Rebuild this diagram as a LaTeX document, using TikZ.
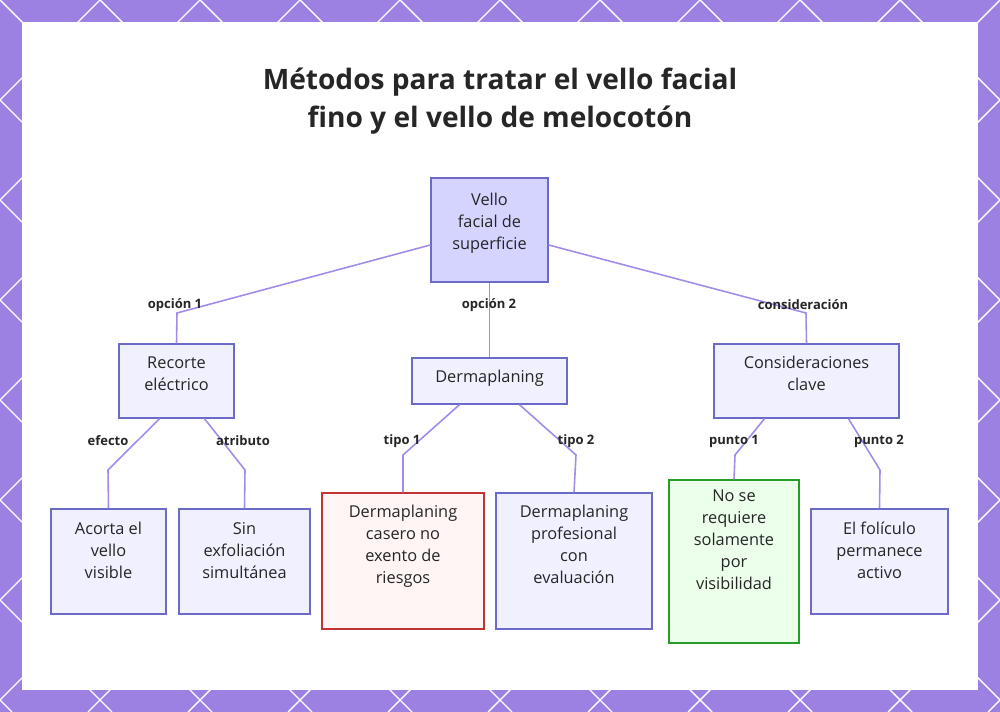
\documentclass[tikz,border=0pt]{standalone}
\usepackage{fontspec}
\setmainfont{Open Sans}
\begin{document}
\begin{tikzpicture}[x=0.02cm,y=-0.02cm,
 box/.style={draw=#1,line width=0.8pt,align=center,inner sep=2pt,font=\fontsize{9.3}{12.5}\selectfont,text=black!85},
 blue/.style={box=blue!45!gray!80,fill=blue!6},
 lk/.style={draw=violet!40!blue!45,line width=0.9pt},
 lb/.style={font=\bfseries\fontsize{7.4}{9}\selectfont,text=black!85}]
\useasboundingbox (0,0) rectangle (1000,712);
\begin{scope}
\clip (0,0) rectangle (1000,712);
\fill[violet!45!blue!50] (0,0) rectangle (1000,712);
\foreach \a in {-700,-600,...,1000} \draw[white,line width=0.8pt] (\a,0) -- (\a+712,712);
\foreach \a in {0,100,...,1700} \draw[white,line width=0.8pt] (\a,0) -- (\a-712,712);
\fill[white] (22,22) rectangle (978,690);
\end{scope}
\node[font=\bfseries\fontsize{16}{22}\selectfont,align=center,text=black!85] (title) at (500,101) {Métodos para tratar el vello facial\\fino y el vello de melocotón};
\node[blue,fill=blue!17,minimum width=117*0.02cm,minimum height=104*0.02cm] (root) at (489.5,230) {Vello\\facial de\\superficie\\[-3pt]\phantom{x}};
\node[blue,minimum width=115*0.02cm,minimum height=74*0.02cm] (rec) at (176.5,381) {Recorte\\eléctrico\\[-4pt]\phantom{x}};
\node[blue,minimum width=155*0.02cm,minimum height=46*0.02cm] (der) at (489.5,381) {Dermaplaning\\[-7pt]\phantom{x}};
\node[blue,minimum width=185*0.02cm,minimum height=74*0.02cm] (con) at (806.5,381) {Consideraciones\\clave\\[-4pt]\phantom{x}};
\node[blue,minimum width=115*0.02cm,minimum height=105*0.02cm] (a1) at (108.5,561.5) {Acorta el\\vello\\visible\\[0pt]\phantom{x}};
\node[blue,minimum width=131*0.02cm,minimum height=105*0.02cm] (a2) at (244.5,561.5) {Sin\\exfoliación\\simultánea\\[0pt]\phantom{x}};
\node[box=red!70!black!80,fill=red!4,minimum width=162*0.02cm,minimum height=136*0.02cm] (b1) at (403,561) {Dermaplaning\\casero no\\exento de\\riesgos\\[7pt]};
\node[blue,minimum width=156*0.02cm,minimum height=136*0.02cm] (b2) at (574,561) {Dermaplaning\\profesional\\con\\evaluación\\[7pt]};
\node[box=green!55!black!85,fill=green!8,minimum width=130*0.02cm,minimum height=163*0.02cm] (c1) at (734,561.5) {No se\\requiere\\solamente\\por\\visibilidad\\[12pt]};
\node[blue,minimum width=137*0.02cm,minimum height=105*0.02cm] (c2) at (879.5,561.5) {El folículo\\permanece\\activo\\[0pt]\phantom{x}};
\draw[lk] ([yshift=-15*0.02cm]root.west) -- (177,313) -- (rec.north);
\draw[lk] (root.south) -- (der.north);
\draw[lk] ([yshift=-15*0.02cm]root.east) -- (806,313) -- (con.north);
\draw[lk] ([xshift=-17*0.02cm]rec.south) -- (108,470) -- (a1.north);
\draw[lk] ([xshift=28*0.02cm]rec.south) -- (245,470) -- (a2.north);
\draw[lk] ([xshift=-30*0.02cm]der.south) -- (403,455) -- (b1.north);
\draw[lk] ([xshift=30*0.02cm]der.south) -- (576,455) -- (b2.north);
\draw[lk] ([xshift=-42*0.02cm]con.south) -- (735,455) -- (c1.north);
\draw[lk] ([xshift=42*0.02cm]con.south) -- (880,470) -- (c2.north);
\node[lb] (l1) at (175,305) {opción 1};
\node[lb] (l2) at (489,305) {opción 2};
\node[lb] (l3) at (803,305) {consideración};
\node[lb] (l4) at (108,441) {efecto};
\node[lb] (l5) at (243,441) {atributo};
\node[lb] (l6) at (402,441) {tipo 1};
\node[lb] (l7) at (576,441) {tipo 2};
\node[lb] (l8) at (734,441) {punto 1};
\node[lb] (l9) at (879,441) {punto 2};
\end{tikzpicture}
\end{document}
